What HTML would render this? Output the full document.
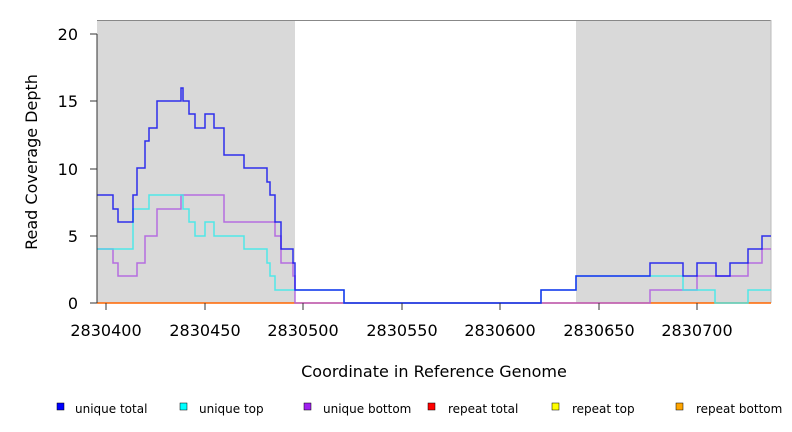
<!DOCTYPE html>
<html><head><style>body{margin:0;background:#fff}svg{display:block;font-family:"DejaVu Sans","Liberation Sans",sans-serif}</style></head><body>
<svg width="792" height="432" viewBox="0 0 792 432">
<rect x="97" y="20" width="198" height="283" fill="#d9d9d9"/>
<rect x="576" y="20" width="195" height="283" fill="#d9d9d9"/>
<line x1="97" y1="20.5" x2="771" y2="20.5" stroke="#888"/>
<line x1="771" y1="20" x2="771" y2="303" stroke="#bbb"/>
<g fill="none" stroke-width="1.5">
<path stroke="#ff6600" d="M97,303H771"/>
<path stroke="#b060e0" opacity="0.9" d="M97,249H113V263H118V276H137V263H145V236H157V209H181V195H224V222H275V236H281V263H293V276H295V303H650V290H697V276H748V263H762V249H771"/>
<path stroke="#40e8e8" opacity="0.9" d="M97,249H133V209H149V195H183V209H189V222H195V236H205V222H214V236H244V249H267V263H270V276H275V290H344V303H541V290H576V276H683V290H715V303H748V290H771"/>
<path stroke="#1010ee" opacity="0.85" d="M97,195H113V209H118V222H133V195H137V168H145V141H149V128H157V101H181V88H183V101H189V114H195V128H205V114H214V128H224V155H244V168H267V182H270V195H275V222H281V249H293V263H295V290H344V303H541V290H576V276H650V263H683V276H697V263H716V276H730V263H748V249H762V236H771"/>
</g>
<g stroke="#333" stroke-width="1">
<line x1="97" y1="34" x2="97" y2="303"/>
<line x1="90" y1="34" x2="97" y2="34"/><line x1="90" y1="101" x2="97" y2="101"/><line x1="90" y1="169" x2="97" y2="169"/><line x1="90" y1="236" x2="97" y2="236"/><line x1="90" y1="303" x2="97" y2="303"/>
<line x1="106" y1="303" x2="106" y2="310"/><line x1="205" y1="303" x2="205" y2="310"/><line x1="303" y1="303" x2="303" y2="310"/><line x1="402" y1="303" x2="402" y2="310"/><line x1="500" y1="303" x2="500" y2="310"/><line x1="599" y1="303" x2="599" y2="310"/><line x1="697" y1="303" x2="697" y2="310"/>
</g>
<g font-size="16" fill="#000" text-anchor="end">
<text x="78" y="40">20</text><text x="78" y="107">15</text><text x="78" y="175">10</text><text x="78" y="242">5</text><text x="78" y="309">0</text>
</g>
<g font-size="16" fill="#000" text-anchor="middle">
<text x="106" y="336">2830400</text><text x="205" y="336">2830450</text><text x="303" y="336">2830500</text><text x="402" y="336">2830550</text><text x="500" y="336">2830600</text><text x="599" y="336">2830650</text><text x="697" y="336">2830700</text>
<text x="434" y="377">Coordinate in Reference Genome</text>
<text transform="translate(37,162) rotate(-90)">Read Coverage Depth</text>
</g>
<g font-size="12" fill="#000" stroke="#000" stroke-width="0.5">
<rect x="57" y="403" width="7" height="7" fill="#0000ff"/>
<rect x="180" y="403" width="7" height="7" fill="#00ffff"/>
<rect x="304" y="403" width="7" height="7" fill="#a020f0"/>
<rect x="428" y="403" width="7" height="7" fill="#ff0000"/>
<rect x="552" y="403" width="7" height="7" fill="#ffff00"/>
<rect x="676" y="403" width="7" height="7" fill="#ffa500"/>
</g>
<g font-size="12" fill="#000">
<text x="75" y="413">unique total</text><text x="199" y="413">unique top</text><text x="323" y="413">unique bottom</text><text x="448" y="413">repeat total</text><text x="572" y="413">repeat top</text><text x="696" y="413">repeat bottom</text>
</g>
</svg>
</body></html>
